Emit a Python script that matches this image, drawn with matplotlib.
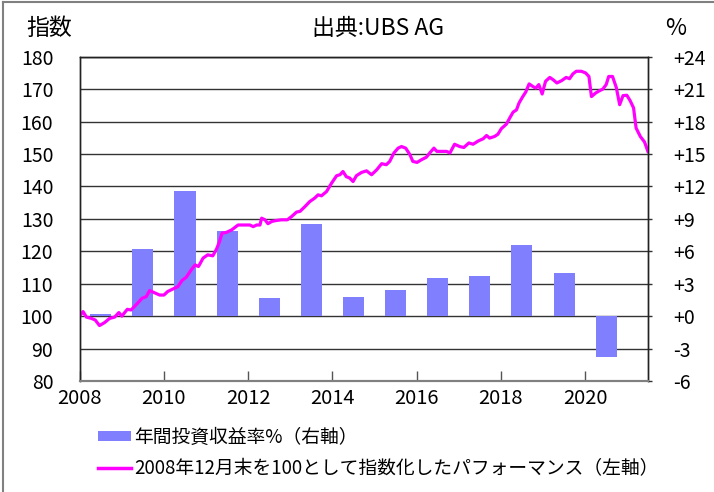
import numpy as np
import matplotlib.pyplot as plt
from matplotlib.patches import Patch
from matplotlib.lines import Line2D

plt.rcParams['font.family'] = ['Noto Sans CJK JP', 'DejaVu Sans']

# annual return bars (right axis, %)
bar_years = [2008.5, 2009.5, 2010.5, 2011.5, 2012.5, 2013.5, 2014.5,
             2015.5, 2016.5, 2017.5, 2018.5, 2019.5, 2020.5]
bar_returns = [0.2, 6.2, 11.6, 7.9, 1.7, 8.5, 1.8, 2.4, 3.5, 3.7, 6.6, 4.0, -3.8]

# performance index (left axis)
line_dates = [2008.00, 2008.08, 2008.16, 2008.28, 2008.37, 2008.47, 2008.59, 2008.71,
              2008.83, 2008.93, 2009.00, 2009.13, 2009.22, 2009.34, 2009.48, 2009.58,
              2009.66, 2009.76, 2009.90, 2010.00, 2010.09, 2010.25, 2010.33, 2010.43,
              2010.53, 2010.65, 2010.74, 2010.82, 2010.93, 2011.04, 2011.16, 2011.25,
              2011.32, 2011.38, 2011.48, 2011.61, 2011.76, 2011.92, 2012.04, 2012.12,
              2012.20, 2012.28, 2012.32, 2012.40, 2012.47, 2012.56, 2012.67, 2012.79,
              2012.93, 2013.03, 2013.15, 2013.23, 2013.35, 2013.46, 2013.58, 2013.66,
              2013.74, 2013.86, 2013.98, 2014.10, 2014.18, 2014.25, 2014.33, 2014.41,
              2014.49, 2014.57, 2014.69, 2014.81, 2014.93, 2015.05, 2015.17, 2015.28,
              2015.36, 2015.46, 2015.56, 2015.64, 2015.74, 2015.84, 2015.91, 2016.01,
              2016.11, 2016.23, 2016.31, 2016.41, 2016.48, 2016.59, 2016.71, 2016.79,
              2016.90, 2017.02, 2017.12, 2017.24, 2017.34, 2017.46, 2017.58, 2017.66,
              2017.73, 2017.85, 2017.93, 2018.01, 2018.13, 2018.21, 2018.29, 2018.37,
              2018.43, 2018.52, 2018.59, 2018.67, 2018.76, 2018.83, 2018.90, 2018.98,
              2019.06, 2019.16, 2019.24, 2019.33, 2019.44, 2019.55, 2019.63, 2019.71,
              2019.79, 2019.91, 2020.01, 2020.09, 2020.15, 2020.25, 2020.34, 2020.42,
              2020.50, 2020.56, 2020.65, 2020.74, 2020.82, 2020.90, 2020.99, 2021.07,
              2021.15, 2021.21, 2021.31, 2021.41, 2021.49]
line_index = [100.0, 101.4, 99.7, 99.3, 98.8, 97.1, 98.0, 99.3,
              99.7, 101.1, 100.0, 102.1, 101.9, 103.5, 105.5, 106.0,
              107.9, 107.3, 106.5, 106.5, 107.6, 108.6, 109.1, 111.0,
              112.0, 114.3, 115.8, 115.3, 117.9, 118.9, 118.6, 120.7,
              123.0, 125.6, 125.8, 126.6, 128.1, 128.1, 128.1, 127.6,
              128.1, 128.1, 130.2, 129.7, 128.5, 129.2, 129.5, 129.7,
              129.7, 130.7, 132.1, 132.3, 133.8, 135.3, 136.4, 137.4,
              137.1, 138.4, 141.0, 143.3, 143.6, 144.6, 143.0, 142.6,
              141.5, 143.3, 144.3, 144.8, 143.6, 145.1, 147.0, 146.7,
              147.7, 150.3, 151.8, 152.3, 151.8, 149.8, 147.7, 147.4,
              148.2, 149.0, 150.3, 151.8, 150.8, 150.8, 150.8, 150.3,
              153.0, 152.3, 152.0, 153.4, 153.0, 154.0, 154.7, 155.7,
              154.9, 155.4, 156.1, 157.8, 159.2, 161.1, 162.9, 163.6,
              165.7, 167.7, 169.1, 171.6, 170.8, 170.3, 171.4, 168.5,
              172.4, 173.6, 172.9, 171.9, 172.6, 173.6, 173.2, 174.7,
              175.5, 175.5, 175.0, 173.9, 167.7, 168.8, 169.5, 170.0,
              171.4, 173.9, 173.9, 170.5, 165.2, 168.0, 168.1, 166.4,
              164.2, 158.0, 155.4, 153.7, 150.8]

left_ticks = [80, 90, 100, 110, 120, 130, 140, 150, 160, 170, 180]
right_ticks = [-6, -3, 0, 3, 6, 9, 12, 15, 18, 21, 24]
right_labels = ['-6', '-3', '+0', '+3', '+6', '+9', '+12', '+15', '+18', '+21', '+24']
x_ticks = [2008, 2010, 2012, 2014, 2016, 2018, 2020]

bar_color = '#8080FF'
line_color = '#FF00FF'

fig = plt.figure(figsize=(7.14, 4.92), dpi=100)
ax = fig.add_axes([0.1116, 0.2256, 0.7964, 0.6592])
ax2 = ax.twinx()
ax.set_zorder(ax2.get_zorder() + 1)
ax.patch.set_visible(False)

# bars + grid on the right axis
ax2.bar(bar_years, bar_returns, width=0.5, color=bar_color, zorder=2)
ax2.set_ylim(-6, 24)
ax2.set_yticks(right_ticks)
ax2.set_yticklabels(right_labels)
ax2.grid(axis='y', color='#333333', lw=1.0)
ax2.set_axisbelow(True)
ax2.tick_params(axis='y', direction='out', length=3, width=1, color='#333333',
                labelsize=14, pad=15)

ax.plot(line_dates, line_index, color=line_color, lw=2.3, solid_joinstyle='round')
ax.set_ylim(80, 180)
ax.set_xlim(2008, 2021.5)
ax.set_yticks(left_ticks)
ax.set_xticks(x_ticks)
ax.tick_params(axis='y', length=0, labelsize=14, pad=19)
ax.tick_params(axis='x', direction='in', length=7, width=1, color='#555555',
               labelsize=14.5, pad=5)
for a in (ax, ax2):
    for s in a.spines.values():
        s.set_color('#222222')
        s.set_linewidth(1.0)
    a.spines['bottom'].set_color('#808080')
    a.spines['bottom'].set_linewidth(1.5)

fig.text(0.037, 0.943, '指数', fontsize=16.5, ha='left', va='center')
fig.text(0.529, 0.943, '出典:UBS AG', fontsize=16.5, ha='center', va='center')
fig.text(0.932, 0.943, '%', fontsize=16.5, ha='left', va='center')

handles = [Patch(facecolor=bar_color, edgecolor='none'),
           Line2D([], [], color=line_color, lw=2.5)]
labels = ['年間投資収益率%（右軸）', '2008年12月末を100として指数化したパフォーマンス（左軸）']
fig.legend(handles, labels, loc='upper left', bbox_to_anchor=(0.137, 0.133),
           frameon=False, fontsize=13.5, handlelength=1.75, handleheight=0.5,
           handletextpad=0.2, labelspacing=0.55, borderaxespad=0, borderpad=0)

# outer frame (only top and left edges visible)
fig.add_artist(Line2D([0.0042, 1.0], [0.996, 0.996], color='#808080', lw=1.5,
                      transform=fig.transFigure))
fig.add_artist(Line2D([0.0042, 0.0042], [0.0, 0.996], color='#808080', lw=1.5,
                      transform=fig.transFigure))

fig.savefig('out.png', dpi=100)
